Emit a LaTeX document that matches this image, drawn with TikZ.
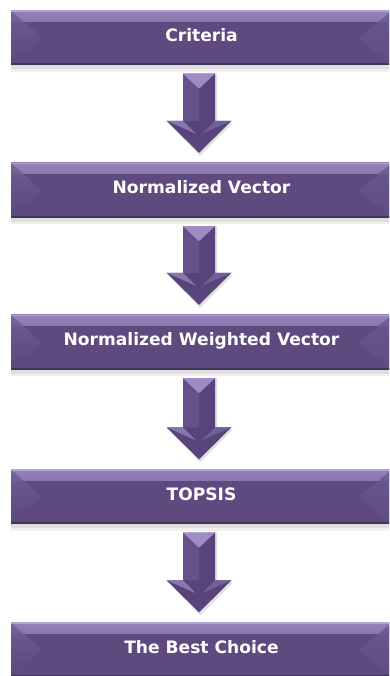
\documentclass[tikz,border=0pt]{standalone}
\usepackage{fontspec}
\setmainfont{DejaVu Sans}
\usetikzlibrary{calc}
\definecolor{pbody}{RGB}{94,74,126}
\definecolor{ptop}{RGB}{148,130,184}
\definecolor{ptopline}{RGB}{178,162,210}
\definecolor{pleftA}{RGB}{114,96,152}
\definecolor{pleftB}{RGB}{90,71,122}
\definecolor{prightA}{RGB}{108,91,145}
\definecolor{prightB}{RGB}{97,78,130}
\definecolor{pdark}{RGB}{66,52,92}
\definecolor{abody}{RGB}{88,68,122}
\definecolor{ashaftL}{RGB}{100,82,138}
\definecolor{atop}{RGB}{160,140,196}
\definecolor{aheadL}{RGB}{136,118,176}
\definecolor{aheadR}{RGB}{114,96,154}
\tikzset{
  flowbox/.style={rectangle, minimum width=381pt, minimum height=55pt, inner sep=0pt,
    fill=pbody, text=white, font=\fontsize{17.1}{20}\selectfont\bfseries,
    text height=11.5pt, text depth=5pt,
    path picture={
      \shade[top color=ptop, bottom color=pbody]
        (path picture bounding box.north west) rectangle ($(path picture bounding box.north east)+(0,-11)$);
      \shade[top color=pleftA, bottom color=pleftB, opacity=0.85]
        (path picture bounding box.north west) -- ($(path picture bounding box.west)+(31,0)$)
        -- (path picture bounding box.south west) -- cycle;
      \shade[top color=prightA, bottom color=prightB, opacity=0.85]
        (path picture bounding box.north east) -- ($(path picture bounding box.east)+(-33,0)$)
        -- (path picture bounding box.south east) -- cycle;
      \fill[ptopline] (path picture bounding box.north west) rectangle ($(path picture bounding box.north east)+(0,-1.5)$);
      \fill[pdark] (path picture bounding box.south west) rectangle ($(path picture bounding box.south east)+(0,2)$);
    }},
  boxshadow/.style={fill=black, opacity=0.13}
}
\newcommand{\blkarrow}[2]{%
  \path ($(#1.south)+(-2.5,-8)$) coordinate (arT) ($(#2.north)+(-2.5,10)$) coordinate (arP);
  \fill[black,opacity=0.12] let \p1=(arT), \p2=(arP) in
    (\x1-14pt,\y1) -- (\x1+18pt,\y1) -- (\x1+18pt,\y2+30pt) -- (\x1+34pt,\y2+30pt) -- (\x1+1pt,\y2-3pt)
    -- (\x1-31pt,\y2+30pt) -- (\x1-14pt,\y2+30pt) -- cycle;
  \fill[abody] let \p1=(arT), \p2=(arP) in
    (\x1-16pt,\y1) -- (\x1+16pt,\y1) -- (\x1+16pt,\y2+32pt) -- (\x1+32.5pt,\y2+32pt) -- (\x1,\y2)
    -- (\x1-32.5pt,\y2+32pt) -- (\x1-16pt,\y2+32pt) -- cycle;
  \fill[ashaftL] let \p1=(arT), \p2=(arP) in
    (\x1-16pt,\y1) -- (\x1,\y1-15pt) -- (\x1,\y2+32pt) -- (\x1-16pt,\y2+32pt) -- cycle;
  \fill[atop] let \p1=(arT), \p2=(arP) in
    (\x1-16pt,\y1) -- (\x1+16pt,\y1) -- (\x1,\y1-15pt) -- cycle;
  \fill[aheadL] let \p1=(arT), \p2=(arP) in
    (\x1-32.5pt,\y2+32pt) -- (\x1-16pt,\y2+32pt) -- (\x1-3pt,\y2+19pt) -- cycle;
  \fill[aheadR] let \p1=(arT), \p2=(arP) in
    (\x1+32.5pt,\y2+32pt) -- (\x1+16pt,\y2+32pt) -- (\x1+3pt,\y2+19pt) -- cycle;
}
\begin{document}
\begin{tikzpicture}[x=1pt,y=1pt]
\useasboundingbox (0,0) rectangle (389,676);
\clip (0,0) rectangle (389,676);
\fill[white] (0,0) rectangle (389,676);
\foreach \yy in {638,485.5,333.5,179,26}{
  \fill[boxshadow] (11,\yy-27.5) rectangle (392,\yy-31.5);
  \fill[black,opacity=0.06] (11,\yy-31.5) rectangle (392,\yy-34);
}
\node[flowbox] (b1) at (201.5,638) {Criteria};
\node[flowbox] (b2) at (201.5,485.5) {Normalized Vector};
\node[flowbox] (b3) at (201.5,333.5) {Normalized Weighted Vector};
\node[flowbox] (b4) at (201.5,179) {TOPSIS};
\node[flowbox] (b5) at (201.5,26) {The Best Choice};
\blkarrow{b1}{b2}
\blkarrow{b2}{b3}
\blkarrow{b3}{b4}
\blkarrow{b4}{b5}
\end{tikzpicture}
\end{document}
